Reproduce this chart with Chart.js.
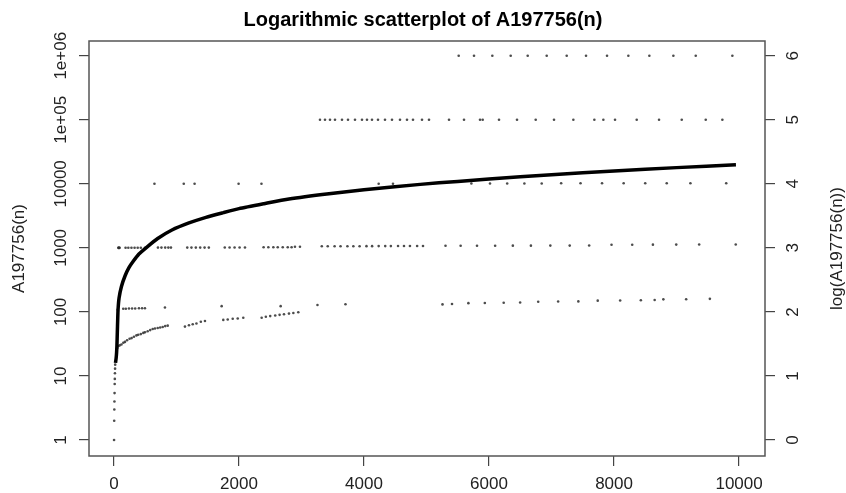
<!DOCTYPE html>
<html>
<head>
<meta charset="utf-8">
<title>Logarithmic scatterplot of A197756(n)</title>
<script src="https://cdn.jsdelivr.net/npm/chart.js@4.4.1/dist/chart.umd.min.js"></script>
<style>
  html, body { margin: 0; padding: 0; background: #fff; }
  #wrap { width: 846px; height: 493px; position: relative; }
</style>
</head>
<body>
<div id="wrap"><canvas id="plot"></canvas></div>
<script>
// Tick positions and labels
const xTicks = [0, 2000, 4000, 6000, 8000, 10000];
const yTicks = [1, 10, 100, 1000, 10000, 100000, 1000000];
const yTickLabels = ['1', '10', '100', '1000', '10000', '1e+05', '1e+06'];
const logTicks = [0, 1, 2, 3, 4, 5, 6];

// Main curve
const mainN = [25, 35, 42, 48, 54, 60, 66, 82, 120, 180, 240, 300, 400, 528, 700, 928, 1200, 1472, 1750, 2000, 2400, 2800, 3440, 4000, 4900, 5500, 6000, 7000, 8000, 9000, 9950];
const mainV = [16, 19, 23, 30, 48, 75, 110, 165, 250, 370, 490, 600, 800, 1030, 1400, 1900, 2450, 3000, 3550, 4100, 4900, 5800, 7000, 8050, 9800, 10900, 11900, 13900, 15900, 17900, 19800];

// First terms near n = 0
const colN = [2, 4, 6, 8, 10, 12, 14, 16, 18, 20];
const colV = [1, 2, 3, 4, 5.4, 7.5, 9, 11, 13, 15];

// Row near 1e+06
const row6N = [5515, 5760, 6053, 6347, 6619, 6923, 7243, 7552, 7888, 8229, 8565, 8949, 9307, 9893];
const row6V = [1e6, 1e6, 1e6, 1e6, 1e6, 1e6, 1e6, 1e6, 1e6, 1e6, 1e6, 1e6, 1e6, 1e6];

// Row near 1e+05
const row5N = [3296, 3376, 3456, 3536, 3648, 3744, 3856, 3968, 4048, 4128, 4224, 4336, 4448, 4576, 4688, 4784, 4928, 5040,
  5360, 5600, 5856, 5899, 6160, 6448, 6747, 7040, 7349, 7685, 7829, 8016, 8363, 8720, 9083, 9467, 9733];
const row5V = [1e5, 1e5, 1e5, 1e5, 1e5, 1e5, 1e5, 1e5, 1e5, 1e5, 1e5, 1e5, 1e5, 1e5, 1e5, 1e5, 1e5, 1e5,
  1e5, 1e5, 1e5, 1e5, 1e5, 1e5, 1e5, 1e5, 1e5, 1e5, 1e5, 1e5, 1e5, 1e5, 1e5, 1e5, 1e5];

// Row near 10000
const row4N = [648, 1117, 1290, 1994, 2360, 4235, 4464, 5718, 6016, 6291, 6566, 6843, 7154, 7464, 7808, 8154, 8499, 8843, 9222, 9795];
const row4V = [10000, 10000, 10000, 10000, 10000, 10000, 10000, 10100, 10100, 10100, 10100, 10100, 10200, 10200, 10200, 10200, 10200, 10200, 10200, 10200];

// Row near 1000
const row3N = [70, 76, 83, 90, 186, 230, 280, 330, 380, 430, 496, 704, 760, 820, 870, 912,
  1173, 1240, 1310, 1380, 1450, 1518, 1773, 1850, 1930, 2010, 2096,
  2394, 2470, 2550, 2620, 2700, 2780, 2842, 2896, 2976,
  3325, 3420, 3530, 3625, 3735, 3830, 3930, 4040, 4130, 4235, 4340, 4430, 4545, 4640, 4735, 4850, 4944,
  5304, 5546, 5808, 6098, 6381, 6670, 6981, 7291, 7602, 7960, 8291, 8622, 8995, 9362, 9947];
const row3V = [1000, 1000, 1000, 1000, 1005, 1005, 1005, 1005, 1005, 1005, 1005, 1010, 1010, 1010, 1010, 1010,
  1010, 1010, 1010, 1010, 1010, 1010, 1015, 1015, 1015, 1015, 1015,
  1020, 1020, 1020, 1020, 1020, 1020, 1020, 1040, 1040,
  1060, 1060, 1060, 1060, 1062, 1062, 1062, 1064, 1064, 1065, 1066, 1066, 1068, 1068, 1070, 1070, 1070,
  1078, 1078, 1080, 1080, 1082, 1082, 1085, 1085, 1088, 1120, 1120, 1122, 1124, 1126, 1130];

// Row near 100-160
const row2N = [60, 149, 190, 240, 290, 340, 400, 450, 496, 816, 1723, 2667, 3256, 3704,
  5256, 5408, 5670, 5933, 6235, 6498, 6787, 7106, 7429, 7739, 8098, 8429, 8650, 8789, 9154, 9533];
const row2V = [108, 112, 112, 113, 113, 113, 114, 114, 114, 117, 123, 123, 128, 132,
  131, 133, 137, 138, 139, 140, 144, 145, 146, 150, 151, 152, 153, 157, 158, 160];

// Lower branch 27-99
const lowN = [50, 65, 90, 120, 150, 176, 210, 250, 283, 320, 360, 389, 430, 470, 496, 540, 580, 620, 656, 700, 740, 780, 820, 860,
  1136, 1200, 1260, 1320, 1390, 1456,
  1749, 1820, 1900, 1980, 2069,
  2363, 2430, 2500, 2580, 2650, 2720, 2800, 2870, 2949];
const lowV = [27, 29, 30, 31, 33, 34, 36, 38, 39, 41, 43, 44, 45, 47, 48, 50, 52, 54, 55, 56, 57, 58, 60, 61,
  59, 62, 64, 66, 70, 72,
  75, 76, 78, 79, 81,
  81, 84, 86, 88, 90, 92, 94, 96, 99];

const logMin = -0.25, logMax = 6.23;
const FONT = '"Liberation Sans", Arial, Helvetica, sans-serif';

function pts(ns, vs) {
  return ns.map((n, i) => ({ x: n, y: vs[i] }));
}

const dots = [].concat(
  pts(colN, colV), pts(row6N, row6V), pts(row5N, row5V), pts(row4N, row4V),
  pts(row3N, row3V), pts(row2N, row2V), pts(lowN, lowV)
);

// R-style frame and rotated axis text
const rStyle = {
  id: 'rStyle',
  afterDraw(chart) {
    const { ctx, chartArea: a, scales } = chart;
    ctx.save();
    ctx.strokeStyle = '#555';
    ctx.lineWidth = 1.5;
    ctx.strokeRect(a.left, a.top, a.right - a.left, a.bottom - a.top);

    ctx.fillStyle = '#222';
    ctx.font = '17px ' + FONT;
    ctx.textAlign = 'center';
    ctx.textBaseline = 'middle';
    const vtext = (t, x, y) => {
      ctx.save();
      ctx.translate(x, y);
      ctx.rotate(-Math.PI / 2);
      ctx.fillText(t, 0, 0);
      ctx.restore();
    };
    yTicks.forEach((v, i) => vtext(yTickLabels[i], a.left - 28, scales.y.getPixelForValue(v)));
    logTicks.forEach(v => vtext(String(v), a.right + 28, scales.y2.getPixelForValue(v)));
    const midY = (a.top + a.bottom) / 2;
    vtext('A197756(n)', a.left - 70, midY);
    vtext('log(A197756(n))', a.right + 72, midY);
    ctx.restore();
  }
};

const tickGrid = { drawOnChartArea: false, drawTicks: true, tickLength: 10, color: '#444', lineWidth: 1.2 };

new Chart(document.getElementById('plot'), {
  type: 'scatter',
  data: {
    datasets: [
      {
        data: pts(mainN, mainV),
        showLine: true,
        borderColor: '#000',
        borderWidth: 3.5,
        pointRadius: 0,
        tension: 0.2
      },
      {
        data: dots,
        pointRadius: 1.3,
        pointBorderWidth: 0,
        pointBackgroundColor: 'rgba(45,45,45,0.85)'
      }
    ]
  },
  options: {
    responsive: true,
    maintainAspectRatio: false,
    animation: false,
    events: [],
    layout: { padding: 0 },
    plugins: {
      legend: { display: false },
      tooltip: { enabled: false },
      title: {
        display: true,
        text: 'Logarithmic scatterplot of A197756(n)',
        color: '#000',
        font: { family: FONT, size: 20, weight: 'bold' },
        padding: { top: 8, bottom: 9 }
      }
    },
    scales: {
      x: {
        type: 'linear',
        min: -399,
        max: 10415,
        afterBuildTicks: s => { s.ticks = xTicks.map(v => ({ value: v })); },
        afterFit: s => { s.height = 37; },
        grid: tickGrid,
        border: { display: false },
        ticks: {
          color: '#222',
          font: { family: FONT, size: 17 },
          padding: 8,
          maxRotation: 0,
          autoSkip: false,
          callback: v => String(v)
        }
      },
      y: {
        type: 'logarithmic',
        position: 'left',
        min: Math.pow(10, logMin),
        max: Math.pow(10, logMax),
        afterBuildTicks: s => { s.ticks = yTicks.map(v => ({ value: v })); },
        afterFit: s => { s.width = 89; },
        grid: tickGrid,
        border: { display: false },
        ticks: { display: false }
      },
      y2: {
        type: 'linear',
        position: 'right',
        min: logMin,
        max: logMax,
        afterBuildTicks: s => { s.ticks = logTicks.map(v => ({ value: v })); },
        afterFit: s => { s.width = 81; },
        grid: tickGrid,
        border: { display: false },
        ticks: { display: false }
      }
    }
  },
  plugins: [rStyle]
});
</script>
</body>
</html>
